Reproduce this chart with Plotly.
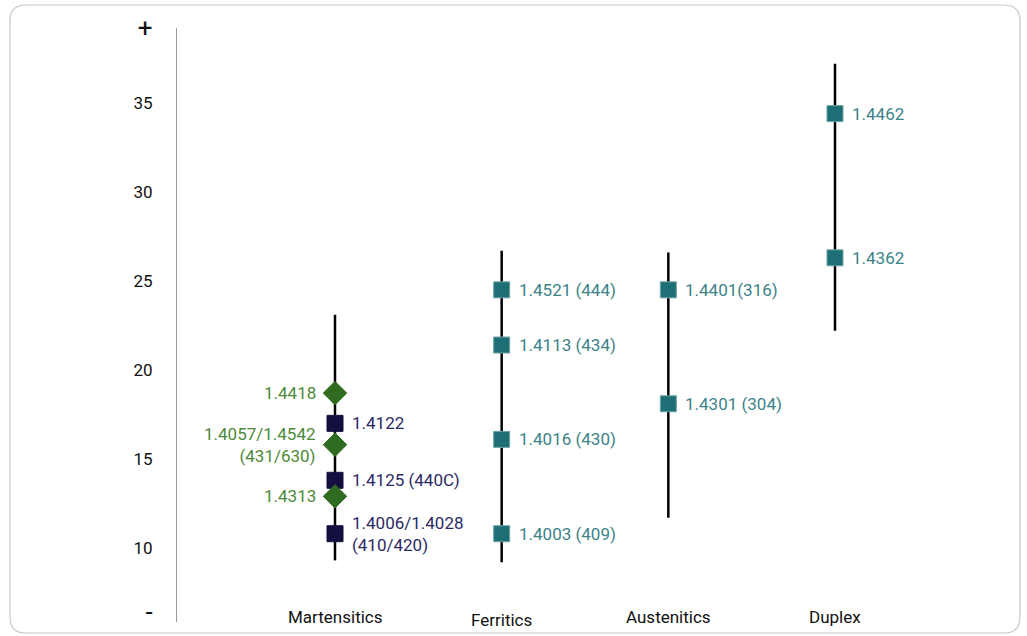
import plotly.graph_objects as go

# ---- data ----
categories = ["Martensitics", "Ferritics", "Austenitics", "Duplex"]
range_low = [9.3, 9.2, 11.7, 22.2]
range_high = [23.1, 26.7, 26.6, 37.2]

mart_sq_y = [17.0, 13.8, 10.8]
mart_sq_labels = ["1.4122", "1.4125 (440C)", "1.4006/1.4028<br>(410/420)"]
mart_di_y = [18.7, 15.8, 12.9]
mart_di_labels = ["1.4418", "1.4057/1.4542<br>(431/630)", "1.4313"]

ferr_y = [24.5, 21.4, 16.1, 10.8]
ferr_labels = ["1.4521 (444)", "1.4113 (434)", "1.4016 (430)", "1.4003 (409)"]

aust_y = [24.5, 18.1]
aust_labels = ["1.4401(316)", "1.4301 (304)"]

dup_y = [34.4, 26.3]
dup_labels = ["1.4462", "1.4362"]

tick_vals = [6.23, 10, 15, 20, 25, 30, 35, 39.03]
tick_text = ["-", "10", "15", "20", "25", "30", "35", "+"]

# ---- styles ----
TEAL = "#1E6F75"
TEAL_TXT = "#3B8388"
NAVY = "#130F3F"
NAVY_TXT = "#2C2A64"
GREEN = "#2F6B20"
GREEN_TXT = "#4C8A3A"
FONT = "Roboto"

W, H = 1027, 636
ML, MR, MT, MB = 177, 27, 28, 14

fig = go.Figure()

for c, lo, hi in zip(categories, range_low, range_high):
    fig.add_trace(go.Scatter(x=[c, c], y=[lo, hi], mode="lines",
                             line=dict(color="black", width=2.5),
                             hoverinfo="skip", showlegend=False))

def marks(cat, ys, labels, color, tcolor, symbol, size, side):
    fig.add_trace(go.Scatter(
        x=[cat] * len(ys), y=ys, mode="markers",
        marker=dict(symbol=symbol, size=size, color=color,
                    line=dict(color="#6FA3A6" if color == TEAL else color, width=1)),
        showlegend=False))
    for yv, lab in zip(ys, labels):
        fig.add_annotation(
            x=cat, y=yv, xref="x", yref="y", text=lab, showarrow=False,
            xanchor="left" if side == "right" else "right",
            align="left" if side == "right" else "right",
            xshift=15 if side == "right" else -17,
            font=dict(family=FONT, size=17, color=tcolor))

marks(categories[0], mart_sq_y, mart_sq_labels, NAVY, NAVY_TXT, "square", 16, "right")
marks(categories[0], mart_di_y, mart_di_labels, GREEN, GREEN_TXT, "diamond", 18, "left")
marks(categories[1], ferr_y, ferr_labels, TEAL, TEAL_TXT, "square", 16, "right")
marks(categories[2], aust_y, aust_labels, TEAL, TEAL_TXT, "square", 16, "right")
marks(categories[3], dup_y, dup_labels, TEAL, TEAL_TXT, "square", 16, "right")

# category labels
label_y = [6.12, 5.95, 6.12, 6.12]
for c, yv in zip(categories, label_y):
    fig.add_annotation(x=c, y=yv, xref="x", yref="y", text=c, showarrow=False,
                       font=dict(family=FONT, size=17, color="#111"))

# rounded card border (pixel -> paper)
pw, ph = W - ML - MR, H - MT - MB
def px(x):
    return (x - ML) / pw
def py(y):
    return (H - MB - y) / ph
x0, x1, y0, y1, r = 10, 1020, 5, 633, 16
path = (f"M {px(x0+r)},{py(y0)} L {px(x1-r)},{py(y0)} "
        f"Q {px(x1)},{py(y0)} {px(x1)},{py(y0+r)} L {px(x1)},{py(y1-r)} "
        f"Q {px(x1)},{py(y1)} {px(x1-r)},{py(y1)} L {px(x0+r)},{py(y1)} "
        f"Q {px(x0)},{py(y1)} {px(x0)},{py(y1-r)} L {px(x0)},{py(y0+r)} "
        f"Q {px(x0)},{py(y0)} {px(x0+r)},{py(y0)} Z")
fig.add_shape(type="path", path=path, xref="paper", yref="paper",
              line=dict(color="#C8C8C8", width=1.2), layer="below")

# bigger +/- tick glyphs
styled_ticks = [f"<span style='font-size:26px'>{t}</span>" if t in "+-" else t
                for t in tick_text]

fig.update_layout(
    width=W, height=H,
    margin=dict(l=ML, r=MR, t=MT, b=MB, autoexpand=False),
    paper_bgcolor="white", plot_bgcolor="white",
    xaxis=dict(type="category", categoryorder="array", categoryarray=categories,
               range=[-0.948, 3.99], showticklabels=False, showgrid=False,
               zeroline=False, showline=False, automargin=False),
    yaxis=dict(range=[5.84, 39.21], tickvals=tick_vals, ticktext=styled_ticks,
               showgrid=False, zeroline=False, showline=True,
               linecolor="#9A9A9A", linewidth=1, ticks="",
               ticklabelstandoff=20, automargin=False,
               tickfont=dict(family=FONT, size=17, color="#111")),
    showlegend=False,
)

fig.write_html("out.html", config={"displayModeBar": False},
               post_script="document.body.style.margin='0';"
                           "document.body.style.overflow='hidden';"
                           "window.scrollTo(0,0);")
